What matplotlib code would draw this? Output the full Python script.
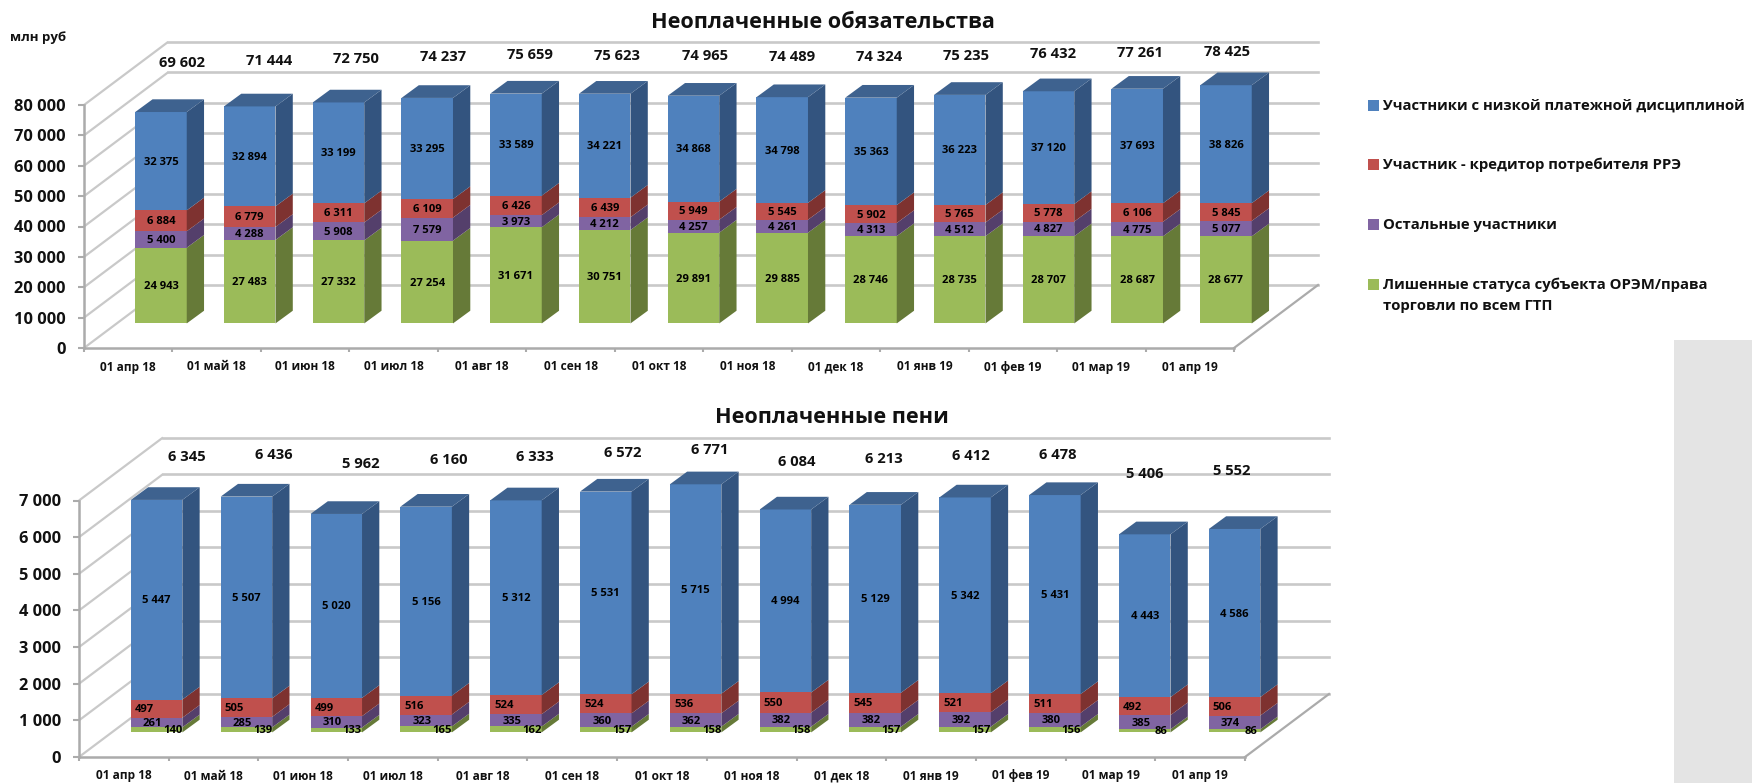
import numpy as np
import matplotlib
matplotlib.use('Agg')
import matplotlib.pyplot as plt
from matplotlib.patches import Polygon, Rectangle

W, H = 1752, 783

plt.rcParams['font.family'] = ['Open Sans', 'DejaVu Sans']
plt.rcParams['font.weight'] = 'bold'

months = ['01 апр 18', '01 май 18', '01 июн 18', '01 июл 18', '01 авг 18', '01 сен 18', '01 окт 18',
          '01 ноя 18', '01 дек 18', '01 янв 19', '01 фев 19', '01 мар 19', '01 апр 19']
legend_names = ['Участники с низкой платежной дисциплиной', 'Участник - кредитор потребителя РРЭ',
                'Остальные участники', 'Лишенные статуса субъекта ОРЭМ/права\nторговли по всем ГТП']

# obligations
ob_green = [24943, 27483, 27332, 27254, 31671, 30751, 29891, 29885, 28746, 28735, 28707, 28687, 28677]
ob_purple = [5400, 4288, 5908, 7579, 3973, 4212, 4257, 4261, 4313, 4512, 4827, 4775, 5077]
ob_red = [6884, 6779, 6311, 6109, 6426, 6439, 5949, 5545, 5902, 5765, 5778, 6106, 5845]
ob_blue = [32375, 32894, 33199, 33295, 33589, 34221, 34868, 34798, 35363, 36223, 37120, 37693, 38826]
ob_total = [69602, 71444, 72750, 74237, 75659, 75623, 74965, 74489, 74324, 75235, 76432, 77261, 78425]

# penalties
pen_green = [140, 139, 133, 165, 162, 157, 158, 158, 157, 157, 156, 86, 86]
pen_purple = [261, 285, 310, 323, 335, 360, 362, 382, 382, 392, 380, 385, 374]
pen_red = [497, 505, 499, 516, 524, 524, 536, 550, 545, 521, 511, 492, 506]
pen_blue = [5447, 5507, 5020, 5156, 5312, 5531, 5715, 4994, 5129, 5342, 5431, 4443, 4586]
pen_total = [6345, 6436, 5962, 6160, 6333, 6572, 6771, 6084, 6213, 6412, 6478, 5406, 5552]

front = ['#9bbb59', '#8064a2', '#c0504d', '#4f81bd']
side = ['#667a38', '#543f6b', '#7e3230', '#33547f']
top_col = '#3e628f'
grid_col = '#c9c9c9'
axis_col = '#ababab'


def fmt(v):
    return f'{v:,}'.replace(',', ' ')


def draw_chart(box, series, totals, ymax, step, total_fit, total_x, small_shift, pitch):
    left, right, y0, ytop = box
    ax = fig.add_axes([left / W, 1 - y0 / H, (right - left) / W, (y0 - ytop) / H])
    ax.set_xlim(0, 13)
    ax.set_ylim(0, ymax)
    ax.patch.set_alpha(0)
    px_x = (right - left) / 13      # px per category
    px_y = (y0 - ytop) / ymax       # px per value
    DX, DY = 84 / px_x, 63 / px_y   # depth of the box in data units
    base_d = 0.39                   # where bars stand on the floor
    bw = 51.5 / px_x
    bdx, bdy = 17.3 / px_x, 12.7 / px_y

    # walls and floor
    ticks = np.arange(0, ymax + 1, step)
    for v in ticks:
        ax.plot([0, DX], [v, v + DY], color=grid_col, lw=1.6, clip_on=False, zorder=1, solid_capstyle='butt')
        ax.plot([DX, 13 + DX], [v + DY, v + DY], color=grid_col, lw=1.9, clip_on=False, zorder=1)
    ax.plot([13, 13 + DX], [0, DY], color=axis_col, lw=1.6, clip_on=False, zorder=1)

    ax.spines['top'].set_visible(False)
    ax.spines['right'].set_visible(False)
    for s in ['left', 'bottom']:
        ax.spines[s].set_color(axis_col)
        ax.spines[s].set_linewidth(1.8)
    ax.set_yticks(ticks)
    ax.set_yticklabels([fmt(v) for v in ticks], fontsize=11.8, color='#111111')
    ax.tick_params(axis='y', length=4, width=1.5, color=axis_col, pad=9)
    ax.set_xticks(np.arange(14))
    ax.set_xticklabels([])
    ax.tick_params(axis='x', length=3, width=1.5, color=axis_col)
    ax.set_xticks(np.arange(13) + 0.5, minor=True)
    ax.set_xticklabels(months, minor=True, fontsize=8.6, color='#111111')
    ax.tick_params(axis='x', which='minor', length=0, pad=9)

    # bars
    for i in range(13):
        x0 = 0.5 - bw / 2 + base_d * DX + i * pitch / px_x
        bottom = base_d * DY
        for k, vals in enumerate(series):
            v = vals[i]
            z = 3 + i
            ax.bar(x0, v, bw, bottom=bottom, align='edge', color=front[k], clip_on=False, zorder=z)
            ax.add_patch(Polygon([(x0 + bw, bottom), (x0 + bw + bdx, bottom + bdy),
                                  (x0 + bw + bdx, bottom + v + bdy), (x0 + bw, bottom + v)],
                                 closed=True, fc=side[k], ec='none', clip_on=False, zorder=z))
            if k == 3:
                ax.add_patch(Polygon([(x0, bottom + v), (x0 + bw, bottom + v),
                                      (x0 + bw + bdx, bottom + v + bdy), (x0 + bdx, bottom + v + bdy)],
                                     closed=True, fc=top_col, ec='none', clip_on=False, zorder=z))
            tx = x0 + bw / 2 + small_shift[k] / px_x
            ax.text(tx, bottom + v / 2 - 1 / px_y, fmt(v), ha='center', va='center', fontsize=8.1,
                    color='black', clip_on=False, zorder=40)
            bottom += v

    # totals, they follow the bars only loosely in the original
    xs = np.linspace(total_x[0], total_x[1], 13)
    for i, t in enumerate(totals):
        y_px = total_fit[0] - total_fit[1] * (t - totals[0]) * px_y
        ax.text((xs[i] - left) / px_x, (y0 - y_px) / px_y, fmt(t), ha='center', va='center', fontsize=10.6,
                color='#111111', clip_on=False, zorder=40)
    return ax


fig = plt.figure(figsize=(W / 100, H / 100), dpi=100, facecolor='white')

# grey block, bottom right
fig.add_artist(Rectangle((1674 / W, 0), (W - 1674) / W, (H - 340) / H, transform=fig.transFigure,
                         fc='#e4e4e4', ec='none', zorder=0))

draw_chart((84, 1234, 348, 105), [ob_green, ob_purple, ob_red, ob_blue], ob_total, 80000, 10000,
           (63, 0.41), (182, 1227), [0, 0, 0, 0], 88.75)
draw_chart((79, 1245, 757, 500.5), [pen_green, pen_purple, pen_red, pen_blue], pen_total, 7000, 1000,
           (457, 0.48), (187, 1232), [16, -4, -12, 0], 89.83)

fig.text(823 / W, 1 - 23 / H, 'Неоплаченные обязательства', ha='center', va='center', fontsize=15.6, color='#111111')
fig.text(832 / W, 1 - 417 / H, 'Неоплаченные пени', ha='center', va='center', fontsize=15.6, color='#111111')
fig.text(10 / W, 1 - 38 / H, 'млн руб', ha='left', va='center', fontsize=9.5, color='#111111')

# legend
leg_y = [105, 164, 224, 284]
for name, col, y in zip(legend_names, front[::-1], leg_y):
    fig.add_artist(Rectangle((1368 / W, 1 - (y + 5.5) / H), 11 / W, 11 / H, transform=fig.transFigure,
                             fc=col, ec='none'))
    fig.text(1383 / W, 1 - (y - 6) / H, name, ha='left', va='top', fontsize=10.75, color='#111111',
             linespacing=1.55)

fig.savefig('out.png', dpi=100)
